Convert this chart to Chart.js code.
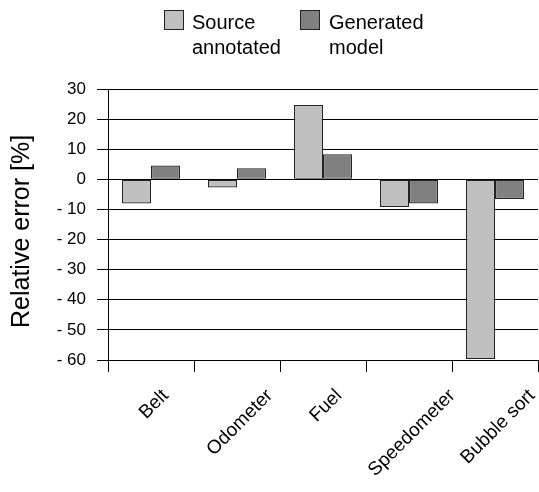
<!DOCTYPE html>
<html>
<head>
<meta charset="utf-8">
<script src="https://cdn.jsdelivr.net/npm/chart.js@4.4.1/dist/chart.umd.min.js"></script>
<style>
  body { margin: 0; background: #fff; }
  #wrap { position: relative; width: 539px; height: 492px; }
  canvas { position: absolute; left: 0; top: 0; }
  .leg { position: absolute; top: 10px; font: 20px "Liberation Sans", Arial, sans-serif; line-height: 25px; color: #000; }
  .box { position: absolute; top: 10px; width: 20px; height: 20px; border: 1px solid #222; box-sizing: border-box; }
</style>
</head>
<body>
<div id="wrap">
  <canvas id="chart" width="539" height="492"></canvas>
  <div class="box" style="left:164px;background:#c0c0c0"></div>
  <div class="leg" style="left:192px">Source<br>annotated</div>
  <div class="box" style="left:300px;background:#808080"></div>
  <div class="leg" style="left:329px">Generated<br>model</div>
</div>
<script>
const categories = ['Belt', 'Odometer', 'Fuel', 'Speedometer', 'Bubble sort'];
const sourceAnnotated = [-8, -2.7, 24.7, -9.2, -59.7];
const generatedModel = [4.6, 3.7, 8.3, -8, -6.5];

// x labels are drawn centred on the category, like the original
const xLabels = {
  id: 'xLabels',
  afterDraw(chart) {
    const ctx = chart.ctx;
    const x = chart.scales.x;
    ctx.save();
    ctx.font = '19px "Liberation Sans", Arial, sans-serif';
    ctx.fillStyle = '#000';
    ctx.textAlign = 'center';
    ctx.textBaseline = 'middle';
    categories.forEach((c, i) => {
      const w = ctx.measureText(c).width;
      const cx = x.getPixelForTick(i) + 3;
      const cy = 386 + (w + 19) * 0.7071 / 2;
      ctx.save();
      ctx.translate(cx, cy);
      ctx.rotate(-Math.PI / 4);
      ctx.fillText(c, 0, 0);
      ctx.restore();
    });
    ctx.restore();
  }
};

new Chart(document.getElementById('chart'), {
  type: 'bar',
  data: {
    labels: categories,
    datasets: [
      { label: 'Source annotated', data: sourceAnnotated, backgroundColor: '#c0c0c0', borderColor: '#222', borderWidth: 1.2, borderSkipped: false },
      { label: 'Generated model', data: generatedModel, backgroundColor: '#808080', borderColor: '#222', borderWidth: 1.2, borderSkipped: false }
    ]
  },
  options: {
    responsive: false,
    animation: false,
    layout: { padding: { top: 89, right: 1, left: 0, bottom: 0 } },
    datasets: { bar: { categoryPercentage: 0.674, barPercentage: 1 } },
    plugins: { legend: { display: false }, tooltip: { enabled: false } },
    scales: {
      x: {
        offset: true,
        grid: { offset: true, drawOnChartArea: false, color: '#000', tickLength: 12 },
        border: { color: '#000' },
        ticks: { color: 'rgba(0,0,0,0)', maxRotation: 0, autoSkip: false },
        afterFit(s) { s.height = 132; }
      },
      y: {
        min: -60,
        max: 30,
        grid: { color: '#000', tickLength: 11 },
        border: { color: '#000' },
        ticks: {
          stepSize: 10,
          padding: 11,
          color: '#000',
          font: { family: '"Liberation Sans", Arial, sans-serif', size: 17 },
          callback: v => v < 0 ? '- ' + (-v) : '' + v
        },
        title: {
          display: true,
          text: 'Relative error [%]  ',
          color: '#000',
          font: { family: '"Liberation Sans", Arial, sans-serif', size: 25 },
          padding: { top: 7, bottom: 0 }
        },
        afterFit(s) { s.width = 108; }
      }
    }
  },
  plugins: [xLabels]
});
</script>
</body>
</html>
